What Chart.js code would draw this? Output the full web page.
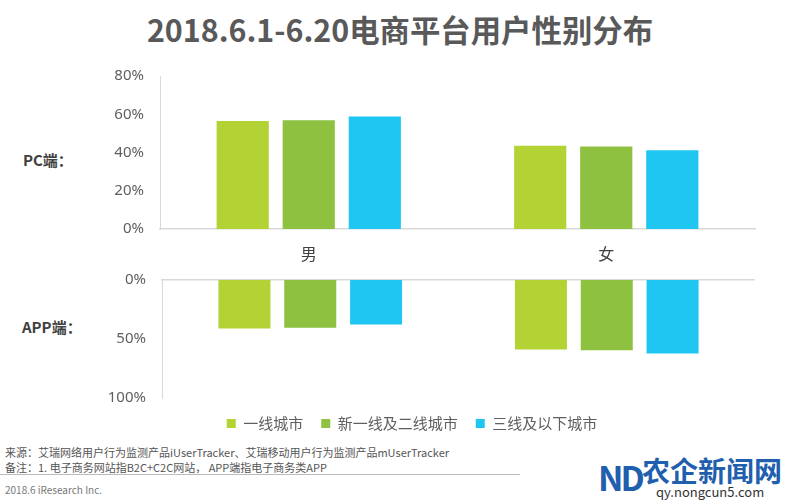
<!DOCTYPE html>
<html lang="zh">
<head>
<meta charset="UTF-8">
<title>2018.6.1-6.20电商平台用户性别分布</title>
<script src="https://cdn.jsdelivr.net/npm/chart.js@4.4.0/dist/chart.umd.min.js"></script>
<style>
    body {
        margin: 0;
        width: 800px;
        height: 500px;
        overflow: hidden;
        position: relative;
        background: #fff;
        font-family: "Noto Sans CJK SC", "Noto Sans", sans-serif;
    }
    .title {
        position: absolute;
        top: 7px;
        left: 0;
        width: 800px;
        text-align: center;
        font-size: 30.4px;
        font-weight: bold;
        color: #595959;
    }
    .side {
        position: absolute;
        font-size: 15px;
        font-weight: bold;
        color: #404040;
    }
    .note {
        position: absolute;
        left: 5px;
        font-size: 11px;
        color: #555;
        white-space: nowrap;
    }
    .rule {
        position: absolute;
        left: 0;
        top: 474px;
        width: 520px;
        height: 1px;
        background: #bbb;
    }
    .mark {
        position: absolute;
        color: #1f5fae;
        font-weight: bold;
    }
    canvas { position: absolute; }
</style>
</head>
<body>
<div class="title">2018.6.1-6.20电商平台用户性别分布</div>
<div class="side" style="left:23px; top:149px;">PC端：</div>
<div class="side" style="left:22px; top:316px;">APP端：</div>

<canvas id="pcChart" width="800" height="218" style="left:0; top:51px;"></canvas>
<canvas id="appChart" width="686" height="186" style="left:69px; top:255px;"></canvas>

<div class="note" style="top:444px;">来源：艾瑞网络用户行为监测产品iUserTracker、艾瑞移动用户行为监测产品mUserTracker</div>
<div class="note" style="top:459px;">备注：1. 电子商务网站指B2C+C2C网站， APP端指电子商务类APP</div>
<div class="rule"></div>
<div class="note" style="top:482px; font-size:10px; color:#777;">2018.6 iResearch Inc.</div>

<div class="mark" style="left:598px; top:452px; font-size:34px; letter-spacing:-3px;">ND</div>
<div class="mark" style="left:642px; top:450px; font-size:28px;">农企新闻网</div>
<div class="mark" style="left:656px; top:482px; font-size:13px; font-weight:normal; color:#333;">qy.nongcun5.com</div>

<script>
    // 数据
    var categories = ["男", "女"];
    var seriesNames = ["一线城市", "新一线及二线城市", "三线及以下城市"];
    var seriesColors = ["#b3d234", "#8dc13f", "#1ec6f1"];

    var pcTier1 = [56.5, 43.5];
    var pcTier2 = [56.8, 43.2];
    var pcTier3 = [58.8, 41.2];

    var appTier1 = [41.2, 58.8];
    var appTier2 = [40.4, 59.6];
    var appTier3 = [37.8, 62.2];

    var pcTicks = [0, 20, 40, 60, 80];
    var appTicks = [0, 50, 100];

    var axisColor = "#d9d9d9";
    var tickColor = "#5f5f5f";

    function makeSets(values) {
        return values.map(function (data, i) {
            return {
                label: seriesNames[i],
                data: data,
                backgroundColor: seriesColors[i],
                borderWidth: 0,
                barPercentage: 0.79,
                categoryPercentage: 0.666
            };
        });
    }

    function pct(v) { return v + "%"; }

    new Chart(document.getElementById("pcChart"), {
        type: "bar",
        data: {
            labels: categories,
            datasets: makeSets([pcTier1, pcTier2, pcTier3])
        },
        options: {
            responsive: false,
            animation: false,
            layout: { padding: { top: 0, right: 45, left: 0, bottom: 0 } },
            plugins: { legend: { display: false }, tooltip: { enabled: false } },
            scales: {
                x: {
                    grid: { display: false, drawTicks: false },
                    border: { display: true, color: axisColor, width: 1.5 },
                    ticks: { padding: 15, color: "#404040", font: { size: 16, family: "Noto Sans CJK SC" } },
                    afterFit: function (axis) { axis.height = 40; }
                },
                y: {
                    min: 0,
                    max: 80,
                    afterBuildTicks: function (axis) {
                        axis.ticks = pcTicks.map(function (v) { return { value: v }; });
                    },
                    grid: { display: false, drawTicks: false },
                    border: { display: true, color: axisColor, width: 1 },
                    ticks: { padding: 16, color: tickColor, font: { size: 15, family: "Noto Sans" }, callback: pct },
                    afterFit: function (axis) { axis.width = 160; }
                }
            }
        }
    });

    new Chart(document.getElementById("appChart"), {
        type: "bar",
        data: {
            labels: categories,
            datasets: makeSets([appTier1, appTier2, appTier3])
        },
        options: {
            responsive: false,
            animation: false,
            layout: { padding: 0 },
            plugins: {
                tooltip: { enabled: false },
                legend: {
                    position: "bottom",
                    labels: {
                        boxWidth: 9,
                        boxHeight: 9,
                        padding: 18,
                        color: tickColor,
                        font: { size: 15, family: "Noto Sans CJK SC" }
                    }
                }
            },
            scales: {
                x: {
                    position: "top",
                    grid: { display: false, drawTicks: false },
                    border: { display: true, color: axisColor, width: 1.5 },
                    ticks: { display: false },
                    afterFit: function (axis) { axis.height = 0; }
                },
                y: {
                    reverse: true,
                    min: 0,
                    max: 100,
                    afterBuildTicks: function (axis) {
                        axis.ticks = appTicks.map(function (v) { return { value: v }; });
                    },
                    grid: { display: false, drawTicks: false },
                    border: { display: true, color: axisColor, width: 1 },
                    ticks: { padding: 16, color: tickColor, font: { size: 15, family: "Noto Sans" }, callback: pct },
                    afterFit: function (axis) { axis.width = 93; }
                }
            }
        }
    });
</script>
</body>
</html>
